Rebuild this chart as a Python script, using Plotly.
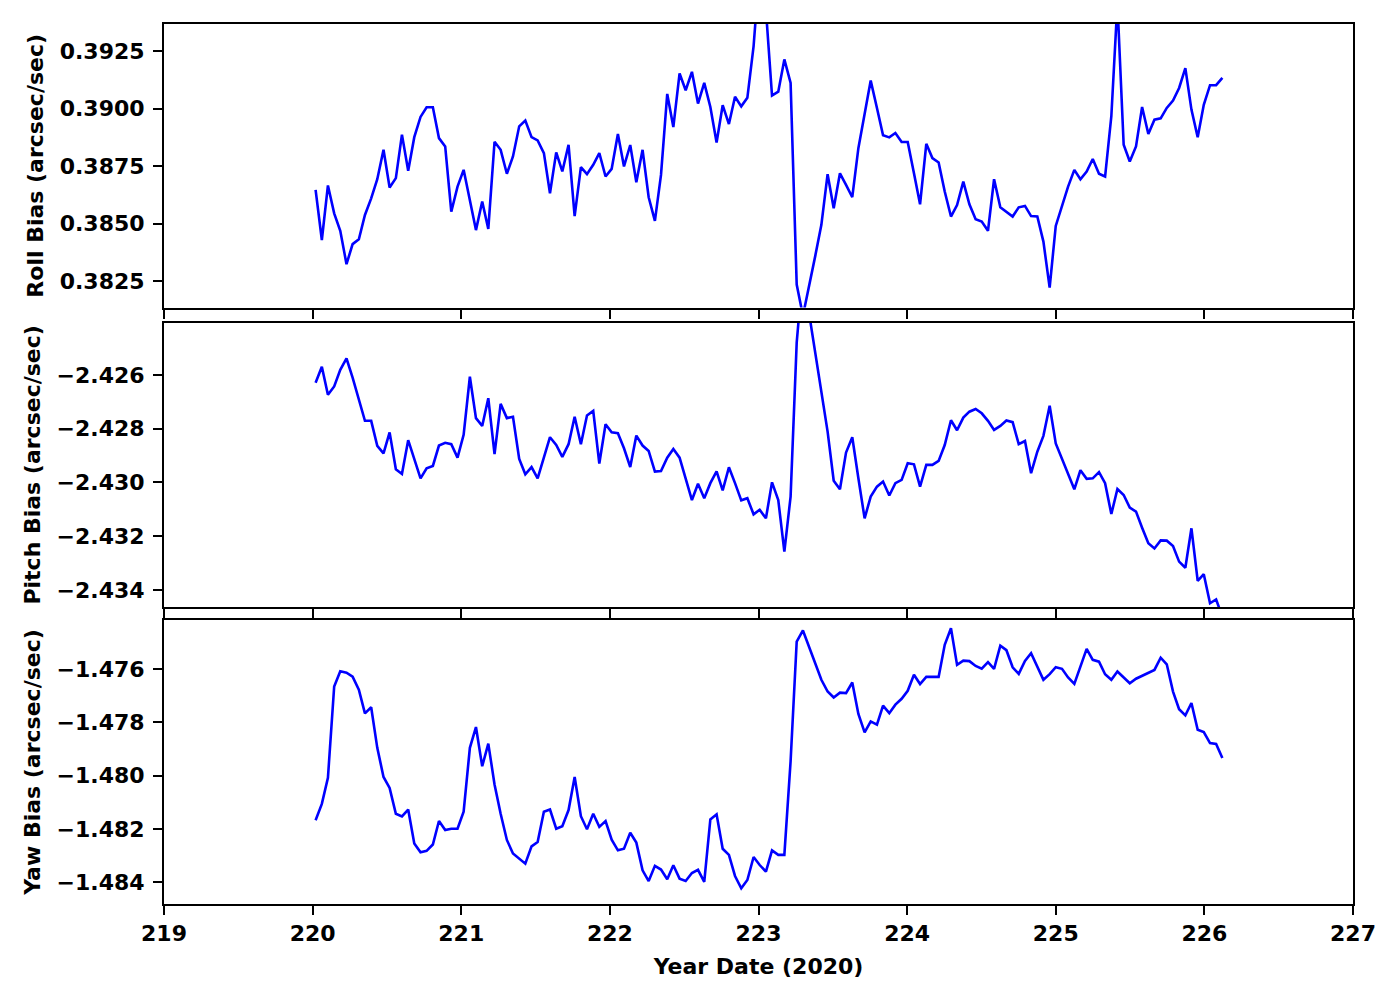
import plotly.graph_objects as go
from plotly.subplots import make_subplots

# Time (day of year 2020) (hourly samples)
TIME = [
    220.020, 220.062, 220.103, 220.145, 220.186, 220.228, 220.269, 220.311, 220.352, 220.394,
    220.435, 220.477, 220.518, 220.560, 220.601, 220.643, 220.684, 220.726, 220.767, 220.809,
    220.850, 220.892, 220.933, 220.975, 221.016, 221.058, 221.099, 221.141, 221.182, 221.224,
    221.265, 221.307, 221.348, 221.390, 221.431, 221.473, 221.514, 221.556, 221.597, 221.639,
    221.680, 221.722, 221.763, 221.805, 221.846, 221.888, 221.929, 221.971, 222.012, 222.054,
    222.095, 222.137, 222.178, 222.220, 222.261, 222.303, 222.344, 222.386, 222.427, 222.469,
    222.510, 222.552, 222.593, 222.635, 222.676, 222.718, 222.759, 222.801, 222.842, 222.884,
    222.925, 222.967, 223.008, 223.050, 223.091, 223.133, 223.174, 223.216, 223.257, 223.299,
    223.340, 223.382, 223.423, 223.465, 223.506, 223.548, 223.589, 223.631, 223.672, 223.714,
    223.755, 223.797, 223.838, 223.880, 223.921, 223.963, 224.004, 224.046, 224.087, 224.129,
    224.170, 224.212, 224.253, 224.295, 224.336, 224.378, 224.419, 224.461, 224.502, 224.544,
    224.585, 224.627, 224.668, 224.710, 224.751, 224.793, 224.834, 224.876, 224.917, 224.959,
    225.000, 225.042, 225.083, 225.125, 225.166, 225.208, 225.249, 225.291, 225.332, 225.374,
    225.415, 225.457, 225.498, 225.540, 225.581, 225.623, 225.664, 225.706, 225.747, 225.789,
    225.830, 225.872, 225.913, 225.955, 225.996, 226.038, 226.079, 226.121,
]

ROLL = [
    0.38647, 0.38429, 0.38666, 0.38545, 0.38469, 0.38324, 0.38411, 0.38432, 0.38538, 0.38610,
    0.38693, 0.38821, 0.38657, 0.38698, 0.38887, 0.38730, 0.38876, 0.38964, 0.39006, 0.39006,
    0.38872, 0.38836, 0.38552, 0.38661, 0.38734, 0.38603, 0.38472, 0.38596, 0.38477, 0.38856,
    0.38821, 0.38717, 0.38792, 0.38923, 0.38948, 0.38876, 0.38862, 0.38807, 0.38632, 0.38810,
    0.38727, 0.38843, 0.38533, 0.38746, 0.38715, 0.38756, 0.38807, 0.38705, 0.38738, 0.38890,
    0.38749, 0.38842, 0.38680, 0.38821, 0.38615, 0.38512, 0.38712, 0.39064, 0.38920, 0.39153,
    0.39080, 0.39160, 0.39022, 0.39112, 0.39007, 0.38853, 0.39015, 0.38933, 0.39052, 0.39010,
    0.39047, 0.39272, 0.39620, 0.39430, 0.39057, 0.39074, 0.39214, 0.39112, 0.38235, 0.38100,
    0.38225, 0.38360, 0.38495, 0.38715, 0.38567, 0.38719, 0.38669, 0.38615, 0.38828, 0.38981,
    0.39122, 0.39003, 0.38884, 0.38875, 0.38894, 0.38855, 0.38855, 0.38719, 0.38584, 0.38847,
    0.38785, 0.38766, 0.38640, 0.38531, 0.38581, 0.38683, 0.38584, 0.38519, 0.38509, 0.38469,
    0.38693, 0.38571, 0.38551, 0.38531, 0.38571, 0.38577, 0.38533, 0.38531, 0.38422, 0.38222,
    0.38490, 0.38574, 0.38661, 0.38734, 0.38693, 0.38727, 0.38781, 0.38717, 0.38705, 0.38967,
    0.39460, 0.38843, 0.38770, 0.38836, 0.39007, 0.38890, 0.38952, 0.38958, 0.39003, 0.39035,
    0.39090, 0.39176, 0.38996, 0.38876, 0.39017, 0.39102, 0.39102, 0.39134,
]

PITCH = [
    -2.42629, -2.42570, -2.42674, -2.42643, -2.42581, -2.42539, -2.42610, -2.42693, -2.42771, -2.42771,
    -2.42864, -2.42892, -2.42814, -2.42951, -2.42969, -2.42843, -2.42910, -2.42985, -2.42948, -2.42939,
    -2.42863, -2.42853, -2.42858, -2.42908, -2.42823, -2.42607, -2.42761, -2.42790, -2.42687, -2.42895,
    -2.42708, -2.42761, -2.42756, -2.42913, -2.42970, -2.42943, -2.42985, -2.42904, -2.42832, -2.42861,
    -2.42905, -2.42858, -2.42756, -2.42858, -2.42751, -2.42734, -2.42930, -2.42784, -2.42814, -2.42817,
    -2.42873, -2.42943, -2.42826, -2.42863, -2.42883, -2.42960, -2.42958, -2.42908, -2.42876, -2.42908,
    -2.42985, -2.43066, -2.43005, -2.43059, -2.43003, -2.42959, -2.43030, -2.42944, -2.43003, -2.43067,
    -2.43059, -2.43119, -2.43102, -2.43134, -2.43000, -2.43066, -2.43258, -2.43053, -2.42480, -2.42210,
    -2.42370, -2.42515, -2.42674, -2.42811, -2.42994, -2.43026, -2.42889, -2.42832, -2.42985, -2.43134,
    -2.43053, -2.43016, -2.42997, -2.43049, -2.43003, -2.42991, -2.42929, -2.42933, -2.43016, -2.42935,
    -2.42935, -2.42920, -2.42861, -2.42769, -2.42806, -2.42759, -2.42737, -2.42727, -2.42743, -2.42771,
    -2.42805, -2.42790, -2.42770, -2.42776, -2.42858, -2.42846, -2.42966, -2.42886, -2.42827, -2.42715,
    -2.42855, -2.42913, -2.42964, -2.43026, -2.42955, -2.42987, -2.42985, -2.42962, -2.43003, -2.43118,
    -2.43025, -2.43047, -2.43094, -2.43109, -2.43169, -2.43227, -2.43246, -2.43216, -2.43217, -2.43237,
    -2.43295, -2.43318, -2.43171, -2.43367, -2.43342, -2.43450, -2.43436, -2.43500,
]

YAW = [
    -1.48167, -1.48106, -1.48008, -1.47666, -1.47609, -1.47614, -1.47629, -1.47678, -1.47767, -1.47744,
    -1.47896, -1.48005, -1.48046, -1.48143, -1.48153, -1.48127, -1.48254, -1.48287, -1.48282, -1.48258,
    -1.48170, -1.48204, -1.48199, -1.48199, -1.48135, -1.47896, -1.47818, -1.47965, -1.47880, -1.48033,
    -1.48143, -1.48241, -1.48292, -1.48311, -1.48330, -1.48265, -1.48249, -1.48135, -1.48127, -1.48199,
    -1.48190, -1.48129, -1.48005, -1.48152, -1.48201, -1.48143, -1.48192, -1.48170, -1.48240, -1.48280,
    -1.48274, -1.48214, -1.48251, -1.48355, -1.48395, -1.48338, -1.48352, -1.48388, -1.48336, -1.48386,
    -1.48395, -1.48365, -1.48353, -1.48398, -1.48164, -1.48145, -1.48274, -1.48297, -1.48376, -1.48422,
    -1.48391, -1.48305, -1.48335, -1.48360, -1.48280, -1.48297, -1.48297, -1.47946, -1.47498, -1.47456,
    -1.47517, -1.47579, -1.47641, -1.47685, -1.47707, -1.47689, -1.47691, -1.47651, -1.47769, -1.47838,
    -1.47797, -1.47809, -1.47738, -1.47766, -1.47734, -1.47712, -1.47682, -1.47622, -1.47657, -1.47630,
    -1.47630, -1.47630, -1.47510, -1.47448, -1.47585, -1.47569, -1.47571, -1.47589, -1.47599, -1.47575,
    -1.47600, -1.47513, -1.47530, -1.47594, -1.47619, -1.47570, -1.47541, -1.47591, -1.47641, -1.47620,
    -1.47594, -1.47600, -1.47632, -1.47656, -1.47589, -1.47525, -1.47566, -1.47573, -1.47620, -1.47641,
    -1.47610, -1.47632, -1.47654, -1.47637, -1.47626, -1.47616, -1.47604, -1.47558, -1.47583, -1.47685,
    -1.47751, -1.47774, -1.47728, -1.47828, -1.47837, -1.47878, -1.47881, -1.47934,
]

Y_TITLES = ["Roll Bias (arcsec/sec)", "Pitch Bias (arcsec/sec)", "Yaw Bias (arcsec/sec)"]
X_TITLE = "Year Date (2020)"
X_RANGE = [219, 227]
Y_RANGES = [[0.38135, 0.39368], [-2.43464, -2.42406], [-1.48481, -1.47417]]
Y_DTICK = [0.0025, 0.002, 0.002]
Y_FMT = [".4f", ".3f", ".3f"]
DOMAINS = [[0.6777, 1.0], [0.3375, 0.6605], [0.0, 0.3227]]

FONT = dict(family="DejaVu Sans", size=22, color="black", weight="bold")

fig = make_subplots(rows=3, cols=1, shared_xaxes=True, vertical_spacing=0.015)

for i, series in enumerate([ROLL, PITCH, YAW]):
    fig.add_trace(
        go.Scatter(x=TIME, y=series, mode="lines",
                   line=dict(color="#0000ff", width=2.6), showlegend=False),
        row=i + 1, col=1,
    )

axis_common = dict(
    showline=True, linecolor="black", linewidth=2, mirror=True,
    ticks="outside", ticklen=9, tickwidth=2, tickcolor="black",
    showgrid=False, zeroline=False, tickfont=FONT,
)

for i in range(3):
    yname = "yaxis" if i == 0 else f"yaxis{i+1}"
    xname = "xaxis" if i == 0 else f"xaxis{i+1}"
    fig.update_layout({
        yname: dict(
            range=Y_RANGES[i], domain=DOMAINS[i], tick0=0, dtick=Y_DTICK[i],
            tickformat=Y_FMT[i], ticklabelstandoff=4,
            title=dict(text=Y_TITLES[i], font=FONT, standoff=10),
            **axis_common,
        ),
        xname: dict(
            range=X_RANGE, tick0=219, dtick=1, ticklabelstandoff=0,
            **axis_common,
        ),
    })

# page body has an 8px offset; size the figure so the plot lands where the reference has it
fig.update_layout(
    xaxis3=dict(title=dict(text=X_TITLE, font=FONT, standoff=13), showticklabels=True),
    width=1392, height=992,
    margin=dict(l=156, r=47, t=16, b=96, autoexpand=False),
    plot_bgcolor="white", paper_bgcolor="white",
    font=FONT,
)

fig.write_html("out.html")
